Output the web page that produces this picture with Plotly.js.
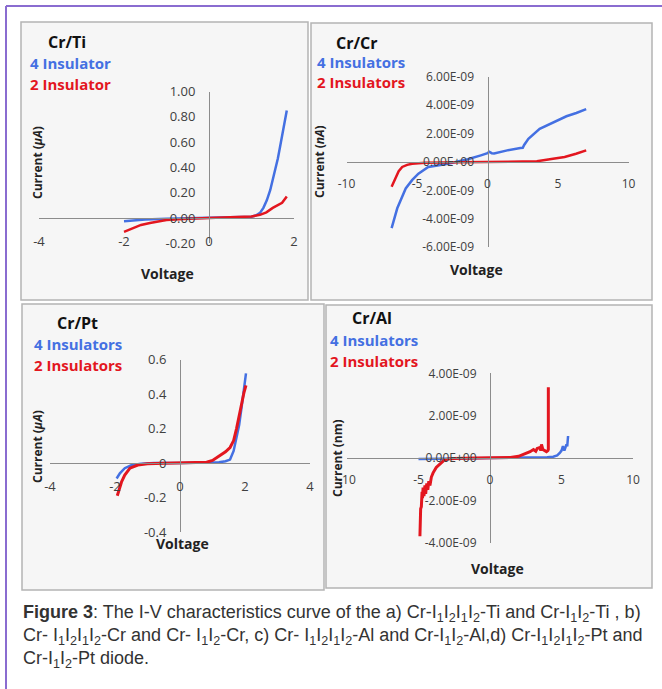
<!DOCTYPE html>
<html>
<head>
<meta charset="utf-8">
<script src="https://cdn.plot.ly/plotly-3.0.1.min.js"></script>
<style>
html,body{margin:0;padding:0;background:#fff;}
#chart{width:662px;height:689px;}
</style>
</head>
<body>
<div id="chart"></div>
<script>
// ---------- DATA ----------
// (a) Cr/Ti  current in µA
const crTi_V4 = [-2.0,-1.5,-1.0,-0.5,0,0.5,1.0,1.1,1.2,1.28,1.36,1.44,1.5,1.56,1.62,1.67,1.72,1.77,1.83];
const crTi_I4 = [-0.025,-0.012,-0.006,-0.002,0,0.002,0.01,0.02,0.04,0.08,0.14,0.22,0.30,0.38,0.47,0.56,0.65,0.74,0.85];
const crTi_V2 = [-2.0,-1.8,-1.6,-1.39,-1.2,-1.0,-0.5,0,0.5,1.0,1.2,1.35,1.5,1.62,1.72,1.83];
const crTi_I2 = [-0.11,-0.08,-0.055,-0.04,-0.025,-0.015,-0.005,0,0.003,0.012,0.025,0.045,0.08,0.10,0.12,0.17];

// (b) Cr/Cr  current in A
const crCr_V4 = [-6.8,-6.4,-5.8,-5.35,-4.9,-4.2,-2.8,-1.4,-0.47,0,0.12,0.3,0.47,1.4,2.33,2.5,2.6,2.9,3.7,4.65,5.6,6.3,7.0];
const crCr_I4 = [-4.66e-9,-3.26e-9,-1.86e-9,-1.28e-9,-0.82e-9,-0.35e-9,-0.12e-9,0.19e-9,0.47e-9,0.62e-9,0.72e-9,0.62e-9,0.60e-9,0.82e-9,0.98e-9,1.0e-9,1.2e-9,1.63e-9,2.33e-9,2.8e-9,3.22e-9,3.45e-9,3.72e-9];
const crCr_V2 = [-6.8,-6.5,-6.3,-6.05,-5.7,-5.35,-4.4,-2.0,0,2.0,3.5,4.65,5.47,6.28,7.0];
const crCr_I2 = [-1.75e-9,-1.05e-9,-0.65e-9,-0.35e-9,-0.2e-9,-0.12e-9,-0.05e-9,-0.02e-9,0,0.02e-9,0.05e-9,0.23e-9,0.35e-9,0.58e-9,0.82e-9];

// (c) Cr/Pt  current in µA
const crPt_V4 = [-1.95,-1.85,-1.7,-1.5,-1.2,-0.8,0,0.8,1.2,1.4,1.54,1.65,1.74,1.82,1.9,1.97,2.03];
const crPt_I4 = [-0.09,-0.06,-0.03,-0.013,-0.004,0,0,0,0.004,0.01,0.02,0.07,0.15,0.22,0.33,0.43,0.52];
const crPt_V2 = [-1.93,-1.85,-1.8,-1.7,-1.54,-1.3,-1.0,-0.5,0,0.5,0.82,1.0,1.23,1.4,1.54,1.65,1.74,1.82,1.9,1.97,2.03];
const crPt_I2 = [-0.19,-0.14,-0.11,-0.07,-0.03,-0.012,-0.005,-0.001,0,0.001,0.005,0.015,0.045,0.065,0.09,0.13,0.2,0.27,0.36,0.41,0.45];

// (d) Cr/Al  current in A
const crAl_V4 = [-5.0,-4.0,-2.0,0,2.0,3.0,4.0,4.42,4.7,4.88,5.0,5.1,5.2,5.28,5.35,5.4,5.46];
const crAl_I4 = [-0.05e-9,-0.03e-9,-0.02e-9,0,0.01e-9,0.02e-9,0.04e-9,0.06e-9,0.12e-9,0.24e-9,0.35e-9,0.56e-9,0.35e-9,0.5e-9,0.64e-9,0.55e-9,1.04e-9];
const crAl_V2 = [-4.9,-4.9,-4.85,-4.8,-4.75,-4.72,-4.68,-4.62,-4.55,-4.5,-4.42,-4.35,-4.28,-4.2,-4.1,-3.98,-3.76,-3.6,-3.41,-3.2,-2.95,-2.5,-1.0,0,1.0,1.43,2.0,2.58,2.8,3.04,3.2,3.3,3.5,3.55,3.6,3.7,3.85,3.95,4.05,4.08,4.08];
const crAl_I2 = [-3.7e-9,-2.7e-9,-2.4e-9,-2.3e-9,-1.6e-9,-1.9e-9,-1.4e-9,-1.8e-9,-1.3e-9,-1.7e-9,-1.2e-9,-1.5e-9,-1.1e-9,-1.3e-9,-0.9e-9,-0.7e-9,-0.45e-9,-0.35e-9,-0.2e-9,-0.1e-9,-0.05e-9,-0.02e-9,0,0,0.01e-9,0.02e-9,0.08e-9,0.22e-9,0.3e-9,0.4e-9,0.32e-9,0.45e-9,0.5e-9,0.35e-9,0.64e-9,0.4e-9,0.32e-9,0.3e-9,0.35e-9,0.4e-9,3.35e-9];

// tick labels
const tiXt = [-4,-2,0,2];          const tiXl = ['-4','-2','0','2'];
const tiYt = [-0.2,0,0.2,0.4,0.6,0.8,1.0]; const tiYl = ['-0.20','0.00','0.20','0.40','0.60','0.80','1.00'];
const crXt = [-10,-5,0,5,10];      const crXl = ['-10','-5','0','5','10'];
const crYt = [-6e-9,-4e-9,-2e-9,0,2e-9,4e-9,6e-9];
const crYl = ['-6.00E-09','-4.00E-09','-2.00E-09','0.00E+00','2.00E-09','4.00E-09','6.00E-09'];
const ptXt = [-4,-2,0,2,4];        const ptXl = ['-4','-2','0','2','4'];
const ptYt = [-0.4,-0.2,0,0.2,0.4,0.6]; const ptYl = ['-0.4','-0.2','0','0.2','0.4','0.6'];
const alXt = [-10,-5,0,5,10];      const alXl = ['-10','-5','0','5','10'];
const alYt = [-4e-9,-2e-9,0,2e-9,4e-9];
const alYl = ['-4.00E-09','-2.00E-09','0.00E+00','2.00E-09','4.00E-09'];

const panelTitles = ['Cr/Ti','Cr/Cr','Cr/Pt','Cr/Al'];
const legend4 = ['4 Insulator','4 Insulators','4 Insulators','4 Insulators'];
const legend2 = ['2 Insulator','2 Insulators','2 Insulators','2 Insulators'];
const yTitles = ['Current (<i>μA</i>)','Current (<i>nA</i>)','Current (<i>μA</i>)','Current (nm)'];

// ---------- LAYOUT HELPERS ----------
const W = 662, H = 689;
const BLUE = '#4470e2', RED = '#e3161f';
const fx = p => p / W;
const fy = p => 1 - p / H;

// plot area pixel boxes [left,right,top,bottom] and ranges
const panels = [
  {box:[39,294,91.5,243.3], xr:[-4,2],  yr:[-0.2,1.0], xt:tiXt, xl:tiXl, yt:tiYt, yl:tiYl, tf:13},
  {box:[346.5,628.5,76.8,247.2], xr:[-10,10], yr:[-6e-9,6e-9], xt:crXt, xl:crXl, yt:crYt, yl:crYl, tf:12},
  {box:[50,310,359.5,532], xr:[-4,4], yr:[-0.4,0.6], xt:ptXt, xl:ptXl, yt:ptYt, yl:ptYl, tf:13},
  {box:[347,633,373.4,542.6], xr:[-10,10], yr:[-4e-9,4e-9], xt:alXt, xl:alXl, yt:alYt, yl:alYl, tf:12}
];

const layout = {
  width: W, height: H,
  margin: {l:0,r:0,t:0,b:0},
  paper_bgcolor: '#ffffff',
  plot_bgcolor: 'rgba(0,0,0,0)',
  showlegend: false,
  font: {family: 'Open Sans, sans-serif', color: '#404040'},
  shapes: [],
  annotations: []
};

panels.forEach((p, i) => {
  const n = i === 0 ? '' : String(i + 1);
  const xd = [fx(p.box[0]), fx(p.box[1])];
  const yd = [fy(p.box[3]), fy(p.box[2])];
  const xPos = xd[0] + (0 - p.xr[0]) / (p.xr[1] - p.xr[0]) * (xd[1] - xd[0]);
  const yPos = yd[0] + (0 - p.yr[0]) / (p.yr[1] - p.yr[0]) * (yd[1] - yd[0]);
  layout['xaxis' + n] = {
    domain: xd, range: p.xr, anchor: 'free', position: yPos,
    showgrid: false, zeroline: false, showline: true, linecolor: '#8c8c8c', linewidth: 1,
    tickmode: 'array', tickvals: p.xt, ticktext: p.xl, ticks: '',
    ticklabelstandoff: 11,
    tickfont: {family: 'Open Sans, sans-serif', size: p.tf, color: '#404040'},
    fixedrange: true
  };
  layout['yaxis' + n] = {
    domain: yd, range: p.yr, anchor: 'free', position: xPos,
    showgrid: false, zeroline: false, showline: true, linecolor: '#8c8c8c', linewidth: 1,
    tickmode: 'array', tickvals: p.yt, ticktext: p.yl, ticks: '',
    ticklabelstandoff: 11,
    tickfont: {family: 'Open Sans, sans-serif', size: p.tf, color: '#404040'},
    fixedrange: true
  };
});

// panel frames
const frames = [[21,308,22,300],[311,652,23,300],[22,324,304,590],[326,652,305,588]];
frames.forEach(f => {
  layout.shapes.push({type:'rect', xref:'paper', yref:'paper', layer:'below',
    x0:fx(f[0]), x1:fx(f[1]), y0:fy(f[3]), y1:fy(f[2]),
    fillcolor:'#f6f6f6', line:{color:'#b4b4b4', width:1.5}});
});
// purple outer frame (top and left)
layout.shapes.push({type:'line', xref:'paper', yref:'paper', x0:fx(6), x1:1, y0:fy(6), y1:fy(6), line:{color:'#8a6cd0', width:2}});
layout.shapes.push({type:'line', xref:'paper', yref:'paper', x0:fx(6), x1:fx(6), y0:fy(6), y1:0, line:{color:'#8a6cd0', width:2}});

// text labels
const txt = [
  {t:[67,42], lx:28, l4:63, l2:84, yt:[37,163], vt:[167,273]},
  {t:[357,43], lx:315, l4:62, l2:82, yt:[320,162], vt:[476,269]},
  {t:[77,323], lx:32, l4:344, l2:365, yt:[37,447], vt:[182,543]},
  {t:[372,318], lx:328, l4:340, l2:361, yt:[337,458], vt:[498,568]}
];
txt.forEach((a, i) => {
  const A = layout.annotations;
  A.push({xref:'paper', yref:'paper', x:fx(a.t[0]), y:fy(a.t[1]), text:'<b>'+panelTitles[i]+'</b>', showarrow:false,
    xanchor:'center', yanchor:'middle', font:{family:'Open Sans, sans-serif', size:16, color:'#111'}});
  A.push({xref:'paper', yref:'paper', x:fx(a.lx), y:fy(a.l4), text:'<b>'+legend4[i]+'</b>', showarrow:false,
    xanchor:'left', yanchor:'middle', font:{family:'Open Sans, sans-serif', size:15, color:BLUE}});
  A.push({xref:'paper', yref:'paper', x:fx(a.lx), y:fy(a.l2), text:'<b>'+legend2[i]+'</b>', showarrow:false,
    xanchor:'left', yanchor:'middle', font:{family:'Open Sans, sans-serif', size:15, color:RED}});
  A.push({xref:'paper', yref:'paper', x:fx(a.yt[0]), y:fy(a.yt[1]), text:'<b>'+yTitles[i]+'</b>', showarrow:false,
    textangle:-90, xanchor:'center', yanchor:'middle', font:{family:'Open Sans, sans-serif', size:12, color:'#222'}});
  A.push({xref:'paper', yref:'paper', x:fx(a.vt[0]), y:fy(a.vt[1]), text:'<b>Voltage</b>', showarrow:false,
    xanchor:'center', yanchor:'middle', font:{family:'Open Sans, sans-serif', size:14, color:'#222'}});
});

// caption
const s12 = 'I<sub>1</sub>I<sub>2</sub>';
const captionLines = [
  '<b>Figure 3</b>: The I-V characteristics curve of the a) Cr-' + s12 + s12 + '-Ti and Cr-' + s12 + '-Ti , b)',
  'Cr- ' + s12 + s12 + '-Cr and Cr- ' + s12 + '-Cr, c) Cr- ' + s12 + s12 + '-Al and Cr-' + s12 + '-Al,d) Cr-' + s12 + s12 + '-Pt and',
  'Cr-' + s12 + '-Pt diode.'
];
const capY = [613, 636, 659];
captionLines.forEach((c, i) => {
  layout.annotations.push({xref:'paper', yref:'paper', x:fx(21), y:fy(capY[i]), text:c, showarrow:false,
    xanchor:'left', yanchor:'middle', align:'left',
    font:{family:'Liberation Sans, Arial, sans-serif', size:18, color:'#333'}});
});

// ---------- TRACES ----------
function tr(x, y, n, color, w) {
  return {x:x, y:y, xaxis:'x'+n, yaxis:'y'+n, type:'scatter', mode:'lines',
    line:{color:color, width:w, shape:'linear'}, hoverinfo:'skip'};
}
const data = [
  tr(crTi_V4, crTi_I4, '', BLUE, 2.5),
  tr(crTi_V2, crTi_I2, '', RED, 2.5),
  tr(crCr_V4, crCr_I4, '2', BLUE, 2.5),
  tr(crCr_V2, crCr_I2, '2', RED, 2.5),
  tr(crPt_V4, crPt_I4, '3', BLUE, 2.5),
  tr(crPt_V2, crPt_I2, '3', RED, 3),
  tr(crAl_V4, crAl_I4, '4', BLUE, 2.5),
  tr(crAl_V2, crAl_I2, '4', RED, 3)
];

Plotly.newPlot('chart', data, layout, {staticPlot:true, displayModeBar:false});
</script>
</body>
</html>
